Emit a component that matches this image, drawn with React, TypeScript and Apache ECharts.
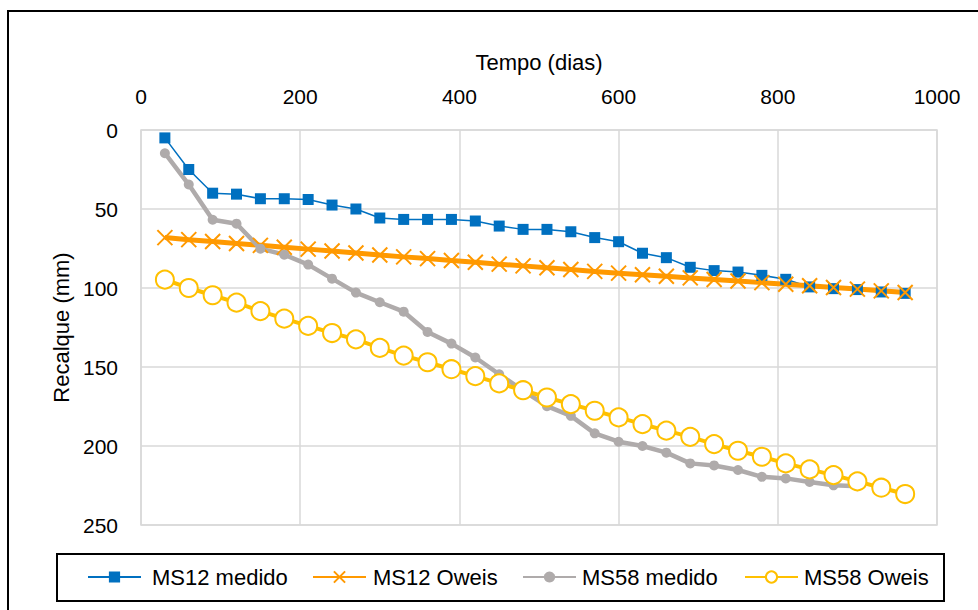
import React, { useEffect, useRef } from "react";
import * as echarts from "echarts";

const days = [30, 60, 90, 120, 150, 180, 210, 240, 270, 300, 330, 360, 390, 420, 450, 480, 510, 540, 570, 600, 630, 660, 690, 720, 750, 780, 810, 840, 870, 900, 930, 960];
const ms12Medido = [5, 25, 40, 40.6, 43.5, 43.5, 44, 47.5, 50, 55.7, 56.6, 56.6, 56.6, 57.6, 60.8, 62.9, 62.9, 64.4, 68.1, 70.7, 78, 80.8, 86.9, 89, 89.9, 92, 94.5, 99.3, 100.4, 101, 102.5, 103.4];
const ms12Oweis = [68.1, 69.4, 70.6, 71.8, 73.0, 74.2, 75.4, 76.6, 77.8, 79.1, 80.3, 81.4, 82.6, 83.7, 84.9, 86.0, 87.2, 88.3, 89.5, 90.6, 91.6, 92.6, 93.6, 94.6, 95.6, 96.6, 97.6, 98.6, 99.7, 100.7, 101.8, 102.9];
const ms58Medido = [14.7, 34.5, 56.8, 59.3, 75.1, 78.9, 85.2, 94.1, 102.9, 109, 115, 127.8, 135.2, 144, 154.6, 165, 174.8, 180.9, 192, 197.3, 200, 204.2, 211, 212.3, 215.2, 219.5, 220.5, 222.8, 224.9, 225.5];
const ms58Oweis = [94.7, 100, 104.6, 109.3, 114.6, 119.4, 124, 128.5, 132.5, 137.9, 142.8, 147, 151.4, 155.8, 160.4, 164.7, 169.3, 173.5, 177.7, 181.9, 186.2, 190.3, 194.2, 198.8, 203, 206.8, 211, 214.8, 218.4, 222.4, 226.4, 230.4];
const seriesNames = ["MS12 medido", "MS12 Oweis", "MS58 medido", "MS58 Oweis"];
const legendLefts = [87, 312, 522, 744];
const legendTextPad = [6, 2, 1, 1];

const pairs = (vals: number[]) => vals.map((v, i) => [days[i], v]);

const FONT = "Liberation Sans";

export default function App() {
  const ref = useRef<HTMLDivElement>(null);
  useEffect(() => {
    if (!ref.current) return;
    const chart = echarts.init(ref.current, null, { renderer: "svg" });
    const tickStyle = { fontFamily: FONT, fontSize: 21, color: "#000" };
    const nameStyle = { fontFamily: FONT, fontSize: 22, color: "#000" };
    chart.setOption({
      animation: false,
      backgroundColor: "#fff",
      textStyle: { fontFamily: FONT },
      grid: {
        left: 141,
        top: 130,
        right: 41,
        bottom: 85,
        show: true,
        borderColor: "#D9D9D9",
        borderWidth: 1.5,
      },
      xAxis: {
        type: "value",
        position: "top",
        min: 0,
        max: 1000,
        interval: 200,
        name: "Tempo (dias)",
        nameLocation: "middle",
        nameGap: 57,
        nameTextStyle: nameStyle,
        axisLine: { show: false },
        axisTick: { show: false },
        axisLabel: { ...tickStyle, margin: 23, formatter: (v: number) => String(v) },
        splitLine: { lineStyle: { color: "#D9D9D9", width: 1.5 } },
      },
      yAxis: {
        type: "value",
        inverse: true,
        min: 0,
        max: 250,
        interval: 50,
        name: "Recalque (mm)",
        nameLocation: "middle",
        nameGap: 68,
        nameTextStyle: nameStyle,
        axisLine: { show: false },
        axisTick: { show: false },
        axisLabel: { ...tickStyle, margin: 23, formatter: (v: number) => String(v) },
        splitLine: { lineStyle: { color: "#D9D9D9", width: 1.5 } },
      },
      legend: seriesNames.map((n, i) => ({
        data: [n],
        left: legendLefts[i],
        top: 566,
        itemWidth: 53,
        itemHeight: 14,
        padding: 0,
        textStyle: { fontFamily: FONT, fontSize: 22, color: "#000", padding: [0, 0, 0, legendTextPad[i]] },
        selectedMode: false,
      })),
      graphic: [
        {
          type: "rect",
          shape: { x: 8, y: 11, width: 1000, height: 700 },
          style: { fill: "none", stroke: "#000", lineWidth: 2 },
          silent: true,
        },
        {
          type: "rect",
          shape: { x: 57, y: 554, width: 887, height: 47 },
          style: { fill: "none", stroke: "#000", lineWidth: 2 },
          silent: true,
        },
      ],
      series: [
        {
          name: seriesNames[0],
          type: "line",
          data: pairs(ms12Medido),
          symbol: "rect",
          symbolSize: 11,
          lineStyle: { color: "#0070C0", width: 1.5 },
          itemStyle: { color: "#0070C0" },
        },
        {
          name: seriesNames[1],
          type: "line",
          data: pairs(ms12Oweis),
          symbol: "path://M0,0L10,10M10,0L0,10",
          symbolSize: 15,
          lineStyle: { color: "#FF9900", width: 5 },
          itemStyle: { color: "none", borderColor: "#FF9900", borderWidth: 2 },
        },
        {
          name: seriesNames[2],
          type: "line",
          data: pairs(ms58Medido),
          symbol: "circle",
          symbolSize: 10,
          lineStyle: { color: "#AFABAB", width: 4.5 },
          itemStyle: { color: "#AFABAB" },
        },
        {
          name: seriesNames[3],
          type: "line",
          data: pairs(ms58Oweis),
          symbol: "circle",
          symbolSize: 18,
          lineStyle: { color: "#FFC000", width: 4 },
          itemStyle: { color: "#fff", borderColor: "#FFC000", borderWidth: 2 },
        },
      ],
    });
    return () => chart.dispose();
  }, []);
  return <div ref={ref} style={{ width: 978, height: 610, position: "absolute", left: 0, top: 0 }} />;
}
